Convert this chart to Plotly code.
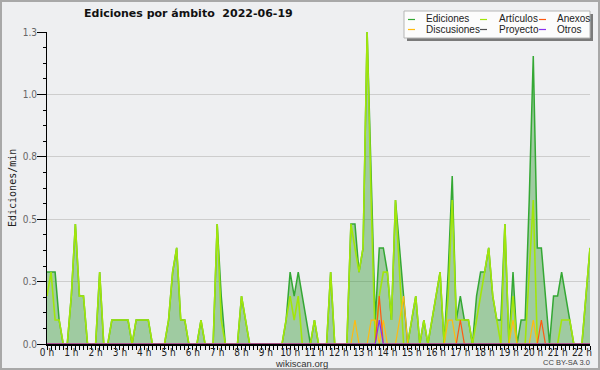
import plotly.graph_objects as go

# ---- data (10-minute bins, edits per minute) ----
minutos = list(range(0, 1350, 10))
horas = [m / 60 for m in minutos]

ediciones = [
    .288, .288, .288, .096, 0, 0, .192, .481, .192, .192,
    0, 0, 0, .288, 0, 0, .096, .096, .096, .096,
    .096, 0, .096, .096, .096, .096, 0, 0, 0, 0,
    .096, .288, .385, .096, .096, 0, 0, 0, .096, 0,
    0, 0, .481, .192, 0, 0, 0, 0, .192, .096,
    0, 0, 0, 0, 0, 0, 0, 0, 0, .096,
    .288, .192, .288, .192, .096, 0, .096, 0, 0, 0,
    .288, 0, 0, 0, 0, .481, .481, .288, .385, 1.25,
    .673, .096, .385, .385, .288, .096, .577, .385, .192, 0,
    .096, .192, 0, .096, 0, .096, .192, .288, 0, .288,
    .673, .096, .192, .096, .096, 0, .192, .288, .288, .385,
    .192, .096, .096, .481, 0, .288, 0, .096, .096, .577,
    1.154, .385, .385, .192, 0, .192, .192, .288, .192, .096,
    0, 0, 0, .192, .385,
]

articulos = [
    .192, .288, .096, .096, 0, 0, .192, .481, .192, .192,
    0, 0, 0, .288, 0, 0, .096, .096, .096, .096,
    .096, 0, .096, .096, .096, .096, 0, 0, 0, 0,
    .096, .288, .385, .096, .096, 0, 0, 0, .096, 0,
    0, 0, .481, .096, 0, 0, 0, 0, .192, .096,
    0, 0, 0, 0, 0, 0, 0, 0, 0, .096,
    .192, .096, .192, 0, 0, 0, .096, 0, 0, 0,
    .288, 0, 0, 0, 0, .481, .385, .288, .385, 1.25,
    .577, 0, .192, .288, .288, .096, .577, .288, 0, 0,
    .096, .192, 0, .096, 0, .096, .192, .288, 0, .192,
    .577, .096, .096, .096, .096, 0, .096, .192, .288, .385,
    .192, .096, 0, .481, 0, .192, 0, 0, 0, .288,
    .577, 0, 0, 0, 0, 0, 0, .096, .096, .096,
    0, 0, 0, .192, .385,
]

discusiones = [
    0, 0, 0, 0, 0, 0, 0, 0, 0, 0,
    0, 0, 0, 0, 0, 0, 0, 0, 0, 0,
    0, 0, 0, 0, 0, 0, 0, 0, 0, 0,
    0, 0, 0, 0, 0, 0, 0, 0, 0, 0,
    0, 0, 0, 0, 0, 0, 0, 0, 0, 0,
    0, 0, 0, 0, 0, 0, 0, 0, 0, 0,
    0, 0, 0, 0, 0, 0, 0, 0, 0, 0,
    0, 0, 0, 0, 0, 0, .096, 0, 0, 0,
    .096, .096, 0, .096, 0, 0, 0, .096, .192, 0,
    0, 0, 0, 0, 0, 0, 0, 0, 0, .096,
    .096, 0, 0, 0, 0, 0, 0, 0, 0, 0,
    0, 0, 0, 0, 0, .096, 0, 0, 0, 0,
    .096, 0, 0, 0, 0, 0, 0, 0, 0, 0,
    0, 0, 0, 0, 0,
]

anexos = [
    0, 0, 0, 0, 0, 0, 0, 0, 0, 0,
    0, 0, 0, 0, 0, 0, 0, 0, 0, 0,
    0, 0, 0, 0, 0, 0, 0, 0, 0, 0,
    0, 0, 0, 0, 0, 0, 0, 0, 0, 0,
    0, 0, 0, 0, 0, 0, 0, 0, 0, 0,
    0, 0, 0, 0, 0, 0, 0, 0, 0, 0,
    0, 0, 0, 0, 0, 0, 0, 0, 0, 0,
    0, 0, 0, 0, 0, 0, 0, 0, 0, 0,
    0, 0, .192, 0, 0, 0, 0, 0, 0, 0,
    0, 0, 0, 0, 0, 0, 0, 0, 0, 0,
    0, 0, .096, 0, 0, 0, 0, 0, 0, 0,
    0, 0, 0, 0, 0, 0, 0, 0, 0, 0,
    0, 0, .096, 0, 0, 0, 0, 0, 0, 0,
    0, 0, 0, 0, 0,
]

proyecto = [
    0, 0, 0, 0, 0, 0, 0, 0, 0, 0,
    0, 0, 0, 0, 0, 0, 0, 0, 0, 0,
    0, 0, 0, 0, 0, 0, 0, 0, 0, 0,
    0, 0, 0, 0, 0, 0, 0, 0, 0, 0,
    0, 0, 0, 0, 0, 0, 0, 0, 0, 0,
    0, 0, 0, 0, 0, 0, 0, 0, 0, 0,
    0, 0, 0, 0, 0, 0, 0, 0, 0, 0,
    0, 0, 0, 0, 0, 0, 0, 0, 0, 0,
    0, 0, 0, 0, 0, 0, 0, 0, 0, 0,
    0, 0, 0, 0, 0, 0, 0, 0, 0, 0,
    0, 0, 0, 0, 0, 0, 0, 0, 0, 0,
    0, 0, 0, 0, 0, 0, 0, 0, 0, 0,
    0, 0, 0, 0, 0, 0, 0, 0, 0, 0,
    0, 0, 0, 0, 0,
]

otros = [
    0, 0, 0, 0, 0, 0, 0, 0, 0, 0,
    0, 0, 0, 0, 0, 0, 0, 0, 0, 0,
    0, 0, 0, 0, 0, 0, 0, 0, 0, 0,
    0, 0, 0, 0, 0, 0, 0, 0, 0, 0,
    0, 0, 0, 0, 0, 0, 0, 0, 0, 0,
    0, 0, 0, 0, 0, 0, 0, 0, 0, 0,
    0, 0, 0, 0, 0, 0, 0, 0, 0, 0,
    0, 0, 0, 0, 0, 0, 0, 0, 0, 0,
    0, 0, .096, 0, 0, 0, 0, 0, 0, 0,
    0, 0, 0, 0, 0, 0, 0, 0, 0, 0,
    0, 0, 0, 0, 0, 0, 0, 0, 0, 0,
    0, 0, 0, 0, 0, 0, 0, 0, 0, 0,
    0, 0, 0, 0, 0, 0, 0, 0, 0, 0,
    0, 0, 0, 0, 0,
]

hora_ticks = list(range(0, 23))
hora_labels = [f"{h} h" for h in hora_ticks]
y_ticks = [0, 0.25, 0.5, 0.75, 1.0, 1.25]
y_labels = ["0.0", "0.3", "0.5", "0.8", "1.0", "1.3"]

titulo = "Ediciones por ámbito  2022-06-19"

# ---- styling ----
W, H = 600, 370
L, R, T, B = 47, 10, 32, 26
PW, PH = W - L - R, H - T - B
BG = "#eeeff1"
colores = {
    "Ediciones": "#34a834",
    "Artículos": "#a2e60a",
    "Anexos": "#ff5a10",
    "Discusiones": "#ffbb10",
    "Proyecto": "#505050",
    "Otros": "#8a30ee",
}


def px(x):
    return (x - L) / PW


def py(y):
    return (H - B - y) / PH


fig = go.Figure()
fig.add_trace(go.Scatter(x=horas, y=ediciones, mode="lines", name="Ediciones",
                         line=dict(color=colores["Ediciones"], width=1.5),
                         fill="tozeroy", fillcolor="rgba(51,153,51,0.42)"))
fig.add_trace(go.Scatter(x=horas, y=articulos, mode="lines", name="Artículos",
                         line=dict(color=colores["Artículos"], width=1.6)))
fig.add_trace(go.Scatter(x=horas, y=discusiones, mode="lines", name="Discusiones",
                         line=dict(color=colores["Discusiones"], width=1.2)))
fig.add_trace(go.Scatter(x=horas, y=proyecto, mode="lines", name="Proyecto",
                         line=dict(color=colores["Proyecto"], width=1.2)))
fig.add_trace(go.Scatter(x=horas, y=anexos, mode="lines", name="Anexos",
                         line=dict(color=colores["Anexos"], width=1.2)))
fig.add_trace(go.Scatter(x=horas, y=otros, mode="lines", name="Otros",
                         line=dict(color=colores["Otros"], width=1.2)))

narrow = "Liberation Sans Narrow, DejaVu Sans Condensed, Liberation Sans"

fig.update_layout(
    width=W, height=H,
    margin=dict(l=L, r=R, t=T, b=B, autoexpand=False),
    paper_bgcolor=BG, plot_bgcolor=BG,
    showlegend=False,
    xaxis=dict(range=[0, horas[-1]], tickmode="array", tickvals=hora_ticks, ticktext=hora_labels,
               ticks="outside", ticklen=4, tickwidth=1, tickcolor="black",
               showline=True, linecolor="black", linewidth=2, showgrid=False, zeroline=False,
               automargin=False, ticklabelstandoff=-6,
               tickfont=dict(family=narrow, size=10, color="#222"),
               minor=dict(tickvals=horas, ticks="outside", ticklen=4, tickcolor="black", showgrid=False)),
    yaxis=dict(range=[0, 1.25], tickmode="array", tickvals=y_ticks, ticktext=y_labels,
               ticks="outside", ticklen=9, tickwidth=1, tickcolor="black",
               showline=True, linecolor="black", linewidth=1, automargin=False,
               ticklabelstandoff=-2,
               showgrid=True, gridcolor="#cdcdcd", gridwidth=1, zeroline=False,
               tickfont=dict(family=narrow, size=10, color="#666"),
               minor=dict(dtick=0.0625, tick0=0, ticks="outside", ticklen=3, tickcolor="black", showgrid=False)),
)

shapes = []
annotations = []

# outer border
shapes.append(dict(type="rect", xref="paper", yref="paper", x0=px(1), x1=px(599), y0=py(1), y1=py(369),
                   line=dict(color="#a8a8a8", width=2), fillcolor="rgba(0,0,0,0)", layer="above"))

# title
annotations.append(dict(text=f"<b>{titulo}</b>", xref="paper", yref="paper", x=px(188), y=py(14),
                        xanchor="center", yanchor="middle", showarrow=False,
                        font=dict(family="DejaVu Sans", size=11, color="#111")))

# y axis title
annotations.append(dict(text="Ediciones/min", xref="paper", yref="paper", x=px(12), y=py(188),
                        xanchor="center", yanchor="middle", showarrow=False, textangle=-90,
                        font=dict(family="DejaVu Sans Mono", size=10, color="#222")))

# credits
annotations.append(dict(text="wikiscan.org", xref="paper", yref="paper", x=px(301), y=py(363),
                        xanchor="center", yanchor="middle", showarrow=False,
                        font=dict(family="Liberation Sans", size=9.5, color="#333")))
annotations.append(dict(text="CC BY-SA 3.0", xref="paper", yref="paper", x=px(566), y=py(362),
                        xanchor="center", yanchor="middle", showarrow=False,
                        font=dict(family="Liberation Sans", size=7.5, color="#444")))

# legend box (manual, 3 columns x 2 rows)
shapes.append(dict(type="rect", xref="paper", yref="paper", x0=px(407), x1=px(593), y0=py(41), y1=py(14),
                   line=dict(width=0), fillcolor="#7a7a7a", layer="above"))
shapes.append(dict(type="rect", xref="paper", yref="paper", x0=px(404), x1=px(590), y0=py(38), y1=py(11),
                   line=dict(color="#b5b5b5", width=1), fillcolor="#fcfcfc", layer="above"))
col_line = [408, 480, 539]
col_text = [424, 497, 555]
row_y = [19.5, 29.5]
orden = [["Ediciones", "Artículos", "Anexos"], ["Discusiones", "Proyecto", "Otros"]]
for r, fila in enumerate(orden):
    for c, nombre in enumerate(fila):
        shapes.append(dict(type="line", xref="paper", yref="paper",
                           x0=px(col_line[c]), x1=px(col_line[c] + 7), y0=py(row_y[r]), y1=py(row_y[r]),
                           line=dict(color=colores[nombre], width=1.2), layer="above"))
        annotations.append(dict(text=nombre, xref="paper", yref="paper", x=px(col_text[c]), y=py(row_y[r] - 0.5),
                                xanchor="left", yanchor="middle", showarrow=False,
                                font=dict(family="Liberation Sans", size=10, color="#222")))

fig.update_layout(shapes=shapes, annotations=annotations)
fig.write_html("out.html", config={"displayModeBar": False},
               post_script="document.body.style.margin='0';document.body.style.overflow='hidden';")
